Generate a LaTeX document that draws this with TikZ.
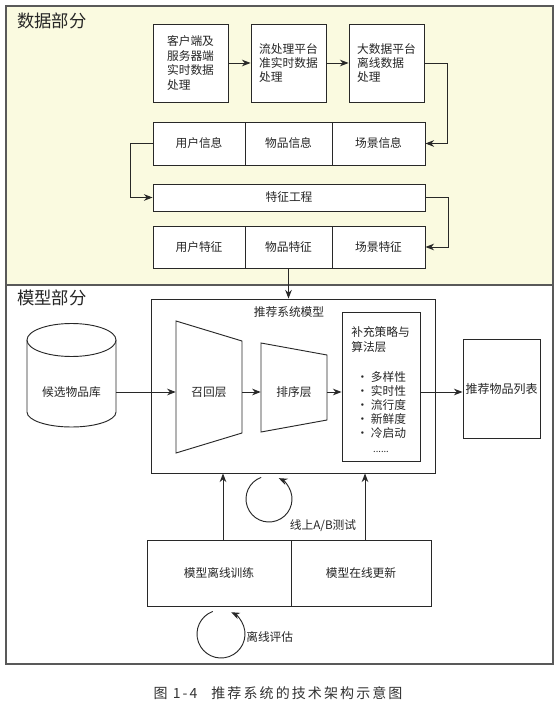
\documentclass[tikz,border=0pt]{standalone}
\usepackage{fontspec}
\setmainfont{Noto Sans CJK SC}
\newfontfamily\capfont[LetterSpace=15]{Noto Sans CJK SC}
\usetikzlibrary{arrows.meta,calc}
\definecolor{datafill}{RGB}{250,250,224}
\definecolor{linec}{RGB}{40,40,40}
\begin{document}
\begin{tikzpicture}[x=0.75pt,y=-0.75pt,
  sz/.style 2 args={minimum width=#1*0.75pt,minimum height=#2*0.75pt},
  box/.style={draw=linec,line width=0.7pt,fill=white,inner sep=0pt,font=\fontsize{8.8}{10.8}\selectfont,align=left,text=black!85},
  lbl/.style={inner sep=0pt,font=\fontsize{8.8}{10.8}\selectfont,text=black!85},
  arr/.style={draw=linec,line width=0.7pt,-{Stealth[length=6.5pt,width=5pt]}},
  ln/.style={draw=linec,line width=0.7pt},
  sec/.style={draw=black!65,line width=0.8pt},
  title/.style={anchor=west,inner sep=0pt,font=\fontsize{13}{15}\selectfont,text=black!85}]
\useasboundingbox[fill=white] (0,0) rectangle (556,705);
% sections
\draw[sec,fill=datafill] (6,6) rectangle (553,285);
\draw[sec] (6,285) rectangle (553,664);
\node[title] (t1) at (17,21) {数据部分};
\node[title] (t2) at (17,298) {模型部分};
% data part
\node[box,sz={75}{78}] (b1) at (190.5,63) {客户端及\\服务器端\\实时数据\\处理};
\node[box,sz={75}{78}] (b2) at (288.5,63) {流处理平台\\准实时数据\\处理};
\node[box,sz={75}{78}] (b3) at (386.5,63) {大数据平台\\离线数据\\处理};
\draw[arr] (b1) -- (b2);
\draw[arr] (b2) -- (b3);
\node[box,sz={92}{43}] (i1) at (199,143.5) {用户信息};
\node[box,sz={87}{43}] (i2) at (288.5,143.5) {物品信息};
\node[box,sz={93}{43}] (i3) at (378.5,143.5) {场景信息};
\node[box,sz={272}{27}] (fe) at (289,197.5) {特征工程};
\node[box,sz={92}{42}] (f1) at (199,247) {用户特征};
\node[box,sz={87}{42}] (f2) at (288.5,247) {物品特征};
\node[box,sz={93}{42}] (f3) at (378.5,247) {场景特征};
\draw[arr] (b3.east) -- ++(23,0) |- (i3.east);
\draw[arr] (i1.west) -- ++(-22,0) |- (fe.west);
\draw[arr] (fe.east) -- ++(23,0) |- (f3.east);
% model part
\node[box,sz={284}{174}] (model) at (293,386) {};
\node[lbl] (mt) at (289,312) {推荐系统模型};
\draw[arr] (f2.south) -- (f2.south |- model.north);
% cylinder
\draw[ln,fill=white] (27,340) -- (27,412) arc[start angle=180,end angle=0,x radius=44.5,y radius=15] -- (116,340);
\draw[ln,fill=white] (71.5,340) ellipse[x radius=44.5,y radius=16.5];
\node[lbl,minimum width=89*0.75pt] (cand) at (71.5,392) {候选物品库};
% trapezoids
\draw[ln,fill=white] (176,321) -- (242,341) -- (242,433) -- (176,453) -- cycle;
\node[lbl,minimum width=66*0.75pt] (recall) at (209,392) {召回层};
\draw[ln,fill=white] (261,343) -- (327,355) -- (327,420) -- (261,432) -- cycle;
\node[lbl,minimum width=66*0.75pt] (rank) at (294,392) {排序层};
% supplement
\node[box,sz={78}{149}] (supp) at (381,386.5) {};
\node[lbl,anchor=north west,align=left,font=\fontsize{8.8}{10.5}\selectfont] (supptext) at (351,326)
  {补充策略与\\[0.8pt]算法层\\[12pt]\hspace*{4pt}· 多样性\\\hspace*{4pt}· 实时性\\\hspace*{4pt}· 流行度\\\hspace*{4pt}· 新鲜度\\\hspace*{4pt}· 冷启动};
\node[lbl,font=\fontsize{7}{8}\selectfont] (dots) at (381,452) {......};
\node[box,sz={77}{99},font=\fontsize{9}{11}\selectfont] (out) at (501.5,388.5) {推荐物品列表};
\draw[arr] (cand.east) -- (recall.west);
\draw[arr] (recall.east) -- (rank.west);
\draw[arr] (rank.east) -- (rank.east -| supp.west);
\draw[arr] (rank.east -| supp.east) -- (rank.east -| out.west);
% training
\node[box,sz={144}{66}] (tr1) at (219,573) {模型离线训练};
\node[box,sz={140}{66}] (tr2) at (361,573) {模型在线更新};
\coordinate (u1) at ($(tr1.north)+(4,0)$);
\coordinate (u2) at ($(tr2.north)+(4,0)$);
\draw[arr] (u1) -- (u1 |- model.south);
\draw[arr] (u2) -- (u2 |- model.south);
% loops
\coordinate (c1) at (269,499);
\draw[arr] ($(c1)+(-110:23)$) arc[start angle=-110,end angle=-425,radius=23];
\node[lbl] (ab) at (323,526) {线上A/B测试};
\coordinate (c2) at (221,634);
\draw[arr] ($(c2)+(-110:24)$) arc[start angle=-110,end angle=-425,radius=24];
\node[lbl,anchor=west] (ev) at (246,637) {离线评估};
% caption
\node[inner sep=0pt,font=\capfont\fontsize{10.5}{12}\selectfont,text=black!80] (cap) at (278,693) {图 1-4\quad 推荐系统的技术架构示意图};
\end{tikzpicture}
\end{document}
